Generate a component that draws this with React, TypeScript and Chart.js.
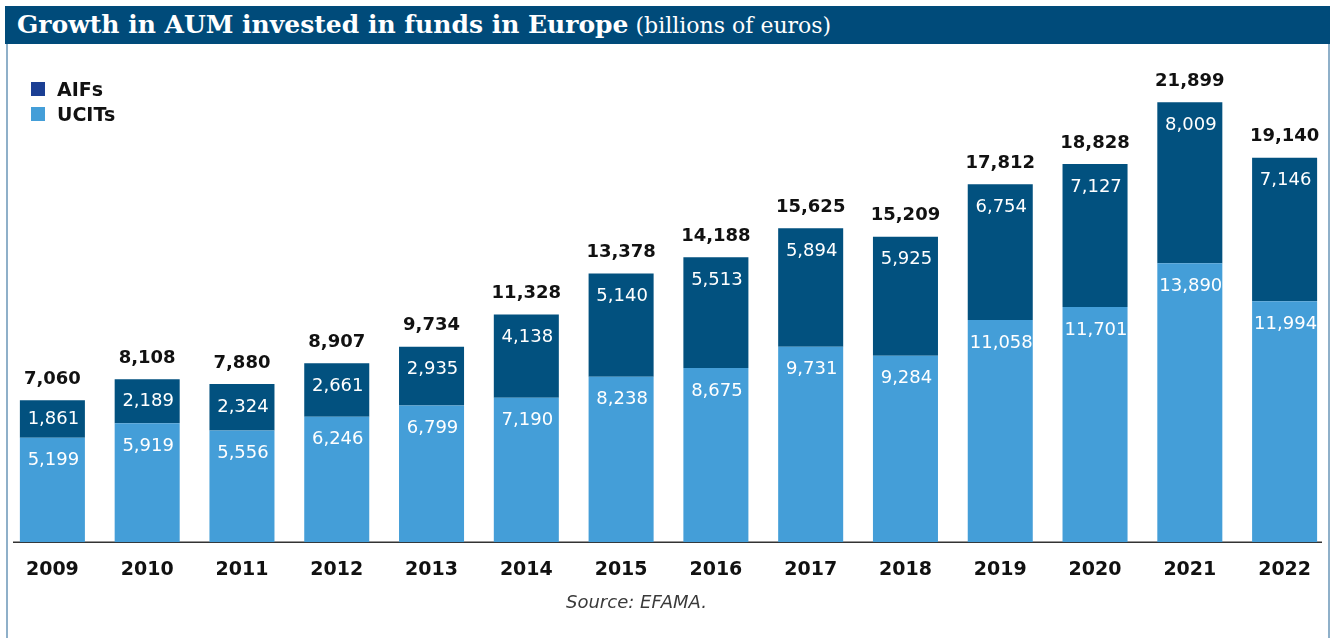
import React, { useEffect, useRef } from "react";
import { Chart, registerables } from "chart.js";

Chart.register(...registerables);

const years = ["2009", "2010", "2011", "2012", "2013", "2014", "2015", "2016", "2017", "2018", "2019", "2020", "2021", "2022"];
const ucits = [5199, 5919, 5556, 6246, 6799, 7190, 8238, 8675, 9731, 9284, 11058, 11701, 13890, 11994];
const aifs = [1861, 2189, 2324, 2661, 2935, 4138, 5140, 5513, 5894, 5925, 6754, 7127, 8009, 7146];
const totals = ucits.map((u, i) => u + aifs[i]);

const UCITS_COLOR = "#449ed8";
const AIFS_COLOR = "#02517f";
const AIFS_LEGEND = "#1b3f94";
const FONT = '"DejaVu Sans", sans-serif';

const fmt = (v: number) => v.toLocaleString("en-US");

const labelPlugin = {
  id: "valueLabels",
  beforeDatasetsDraw(chart: any) {
    const ctx = chart.ctx;
    const area = chart.chartArea;
    ctx.save();
    ctx.strokeStyle = "#333";
    ctx.lineWidth = 1.5;
    ctx.beginPath();
    ctx.moveTo(13, area.bottom);
    ctx.lineTo(1322, area.bottom);
    ctx.stroke();
    ctx.restore();
  },
  afterDatasetsDraw(chart: any) {
    const ctx = chart.ctx;
    ctx.save();
    ctx.textAlign = "center";
    ctx.textBaseline = "middle";
    ctx.font = `18px ${FONT}`;
    ctx.fillStyle = "#ffffff";
    [0, 1].forEach((di) => {
      const meta = chart.getDatasetMeta(di);
      const vals = chart.data.datasets[di].data as number[];
      meta.data.forEach((el: any, i: number) => {
        const p = el.getProps(["x", "y", "base"], true);
        const h = Math.abs(p.base - p.y);
        const ly = p.y + Math.min(23, h / 2);
        ctx.fillText(fmt(vals[i]), p.x + 1, ly);
      });
    });
    ctx.font = `bold 18px ${FONT}`;
    ctx.fillStyle = "#111111";
    const metaTop = chart.getDatasetMeta(1);
    metaTop.data.forEach((el: any, i: number) => {
      const p = el.getProps(["x", "y"], true);
      ctx.fillText(fmt(totals[i]), p.x, p.y - 21);
    });
    ctx.restore();
  },
};

export default function App() {
  const canvasRef = useRef<HTMLCanvasElement | null>(null);

  useEffect(() => {
    if (!canvasRef.current) return;
    const chart = new Chart(canvasRef.current, {
      type: "bar",
      data: {
        labels: years,
        datasets: [
          { label: "UCITs", data: ucits, backgroundColor: UCITS_COLOR, stack: "s" },
          { label: "AIFs", data: aifs, backgroundColor: AIFS_COLOR, stack: "s" },
        ],
      },
      options: {
        responsive: false,
        animation: false,
        devicePixelRatio: 1,
        layout: { padding: { left: 5, right: 3, top: 10, bottom: 14 } },
        datasets: { bar: { categoryPercentage: 1, barPercentage: 0.686 } },
        plugins: {
          legend: { display: false },
          tooltip: { enabled: false },
        },
        scales: {
          x: {
            stacked: true,
            grid: { display: false, drawTicks: false },
            border: { display: false },
            ticks: {
              padding: 16,
              color: "#111111",
              font: { family: FONT, size: 19, weight: "bold" },
            },
          },
          y: {
            stacked: true,
            display: false,
            min: 0,
            max: 24000,
          },
        },
      },
      plugins: [labelPlugin],
    });
    return () => chart.destroy();
  }, []);

  return (
    <div style={{ position: "absolute", left: 0, top: 0, width: 1335, height: 638, background: "#fff", overflow: "hidden" }}>
      <div
        style={{
          position: "absolute",
          left: 5,
          top: 6,
          width: 1325,
          height: 38,
          background: "#004b7a",
          color: "#fff",
          lineHeight: "38px",
          paddingLeft: 12,
          boxSizing: "border-box",
          fontFamily: '"DejaVu Serif", serif',
          whiteSpace: "nowrap",
        }}
      >
        <span style={{ fontWeight: "bold", fontSize: 25 }}>Growth in AUM invested in funds in Europe</span>
        <span style={{ fontSize: 22 }}> (billions of euros)</span>
      </div>
      <div style={{ position: "absolute", left: 6, top: 44, width: 2, height: 594, background: "#8fb0c9" }} />
      <div style={{ position: "absolute", left: 1328, top: 44, width: 2, height: 594, background: "#8fb0c9" }} />
      <canvas
        ref={canvasRef}
        width={1335}
        height={561}
        style={{ position: "absolute", left: 0, top: 50, width: 1335, height: 561 }}
      />
      <div style={{ position: "absolute", left: 31, top: 79, fontFamily: FONT, fontWeight: "bold", fontSize: 19, color: "#111" }}>
        <div style={{ display: "flex", alignItems: "center", height: 19, marginBottom: 6 }}>
          <span style={{ display: "inline-block", width: 14, height: 14, background: AIFS_LEGEND, marginRight: 12 }} />
          AIFs
        </div>
        <div style={{ display: "flex", alignItems: "center", height: 19 }}>
          <span style={{ display: "inline-block", width: 14, height: 14, background: UCITS_COLOR, marginRight: 12 }} />
          UCITs
        </div>
      </div>
      <div
        style={{
          position: "absolute",
          left: 566,
          top: 591,
          fontFamily: FONT,
          fontStyle: "italic",
          fontSize: 18,
          color: "#3a3a3a",
          whiteSpace: "nowrap",
        }}
      >
        Source: EFAMA.
      </div>
    </div>
  );
}
